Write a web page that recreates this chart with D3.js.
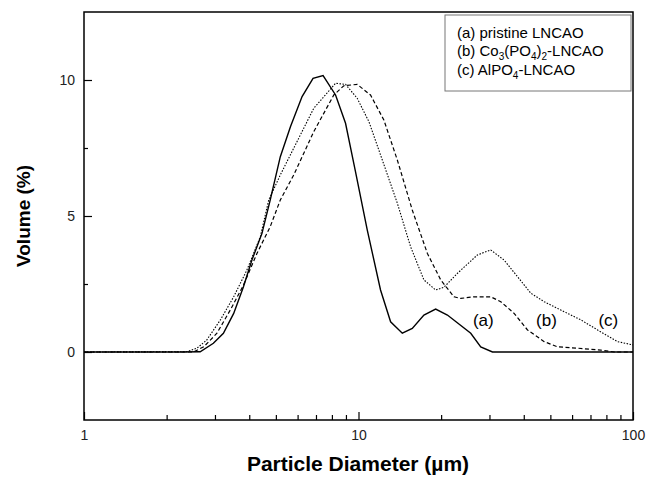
<!DOCTYPE html>
<html>
<head>
<meta charset="utf-8">
<script src="https://cdn.jsdelivr.net/npm/d3@7"></script>
<style>
  body { margin: 0; background: #fff; }
  svg { font-family: "Liberation Sans", Arial, sans-serif; }
</style>
</head>
<body>
<div id="chart"></div>
<script>
// particle size distributions (diameter in um, volume in %)
const diamA = [1, 2.24, 2.65, 2.96, 3.22, 3.51, 3.81, 4.09, 4.45, 4.77, 5.19, 5.65, 6.23, 6.83, 7.43, 8.25, 8.97, 9.75, 10.76, 12.03, 13.09, 14.44, 15.70, 17.31, 19.10, 21.08, 25.64, 27.88, 30.76, 100];
const volA  = [0, 0, 0.01, 0.32, 0.69, 1.42, 2.40, 3.38, 4.36, 5.59, 7.18, 8.28, 9.39, 10.06, 10.16, 9.45, 8.41, 6.63, 4.49, 2.28, 1.11, 0.69, 0.87, 1.36, 1.58, 1.36, 0.69, 0.19, 0, 0];

const diamB = [1, 2.50, 2.73, 3.05, 3.41, 3.81, 4.27, 4.77, 5.19, 5.81, 6.87, 8.13, 8.84, 9.89, 11.06, 12.37, 13.85, 15.70, 17.81, 19.93, 22.28, 23.57, 26.35, 30.33, 32.98, 36.89, 41.28, 47.47, 53.13, 62.84, 76.4, 85.5, 100];
const volB  = [0, 0, 0.19, 0.69, 1.54, 2.46, 3.63, 4.61, 5.59, 6.51, 8.10, 9.45, 9.79, 9.84, 9.45, 8.53, 7.06, 5.22, 3.63, 2.65, 2.03, 1.97, 2.03, 2.03, 1.85, 1.42, 0.81, 0.38, 0.19, 0.14, 0.07, 0, 0];

const diamC = [1, 2.37, 2.58, 2.80, 3.14, 3.51, 3.92, 4.39, 4.71, 5.19, 6.87, 8.25, 8.97, 9.89, 10.91, 12.21, 13.85, 15.48, 17.31, 19.10, 20.48, 22.92, 27.12, 30.33, 33.91, 37.95, 42.45, 47.47, 54.6, 64.6, 74.3, 87.9, 100];
const volC  = [0, 0.01, 0.14, 0.44, 1.18, 2.03, 3.01, 4.24, 5.59, 6.51, 8.96, 9.88, 9.84, 9.33, 8.47, 7.06, 5.47, 3.87, 2.65, 2.28, 2.38, 2.89, 3.57, 3.75, 3.38, 2.77, 2.16, 1.85, 1.54, 1.18, 0.81, 0.38, 0.26];

const majorX = [1, 10, 100];
const minorX = [2, 3, 4, 5, 6, 7, 8, 9, 20, 30, 40, 50, 60, 70, 80, 90];
const majorY = [0, 5, 10];
const minorY = [2.5, 7.5];

const curveLabels = [
    { text: "(a)", d: 28.5, v: 0.95 },
    { text: "(b)", d: 48.4, v: 0.95 },
    { text: "(c)", d: 81.3, v: 0.95 }
];

const W = 648, H = 478;
const plot = { left: 84, right: 633, top: 12, bottom: 420 };

const svg = d3.select("#chart").append("svg")
    .attr("width", W)
    .attr("height", H);

const x = d3.scaleLog().domain([1, 100]).range([plot.left, plot.right]);
const y = d3.scaleLinear().domain([-2.5, 12.5]).range([plot.bottom, plot.top]);

// curves
const series = [
    { d: diamA, v: volA, dash: null, width: 1.4 },
    { d: diamB, v: volB, dash: "4,2.5", width: 1.2 },
    { d: diamC, v: volC, dash: "1.5,1.5", width: 1.1 }
];

const line = d3.line()
    .x(p => x(p[0]))
    .y(p => y(p[1]));

series.forEach(s => {
    svg.append("path")
        .datum(s.d.map((d, i) => [d, s.v[i]]))
        .attr("d", line)
        .attr("fill", "none")
        .attr("stroke", "#000")
        .attr("stroke-width", s.width)
        .attr("stroke-dasharray", s.dash);
});

// axes, ticks point inward
svg.append("g")
    .attr("transform", `translate(0,${plot.bottom})`)
    .call(d3.axisBottom(x).tickValues(majorX).tickFormat(d3.format("d"))
        .tickSizeInner(-8).tickSizeOuter(0).tickPadding(10));

svg.append("g")
    .attr("transform", `translate(0,${plot.bottom})`)
    .call(d3.axisBottom(x).tickValues(minorX).tickFormat("")
        .tickSizeInner(-5).tickSizeOuter(0));

svg.append("g")
    .attr("transform", `translate(${plot.left},0)`)
    .call(d3.axisLeft(y).tickValues(majorY)
        .tickSizeInner(-8).tickSizeOuter(0).tickPadding(9));

svg.append("g")
    .attr("transform", `translate(${plot.left},0)`)
    .call(d3.axisLeft(y).tickValues(minorY).tickFormat("")
        .tickSizeInner(-4).tickSizeOuter(0));

svg.selectAll(".domain").remove();
svg.selectAll(".tick line").attr("stroke", "#000").attr("stroke-width", 1.2);
svg.selectAll(".tick text")
    .attr("fill", "#222")
    .style("font-size", "14px")
    .style("font-family", "'Liberation Sans', Arial, sans-serif");

// frame
svg.append("rect")
    .attr("x", plot.left).attr("y", plot.top)
    .attr("width", plot.right - plot.left).attr("height", plot.bottom - plot.top)
    .attr("fill", "none")
    .attr("stroke", "#000")
    .attr("stroke-width", 1.5);

// axis titles
svg.append("text")
    .attr("x", 358)
    .attr("y", 471)
    .attr("text-anchor", "middle")
    .style("font-size", "21px")
    .style("font-weight", "bold")
    .text("Particle Diameter (\u00b5m)");

svg.append("text")
    .attr("transform", `translate(30,${(plot.top + plot.bottom) / 2}) rotate(-90)`)
    .attr("text-anchor", "middle")
    .style("font-size", "19px")
    .style("font-weight", "bold")
    .text("Volume (%)");

// curve labels
svg.selectAll(".curve-label")
    .data(curveLabels).enter()
    .append("text")
    .attr("class", "curve-label")
    .attr("x", d => x(d.d))
    .attr("y", d => y(d.v))
    .attr("text-anchor", "middle")
    .style("font-size", "17px")
    .text(d => d.text);

// legend
const legend = svg.append("g");
legend.append("rect")
    .attr("x", 445).attr("y", 15)
    .attr("width", 186).attr("height", 76)
    .attr("fill", "#fff")
    .attr("stroke", "#777")
    .attr("stroke-width", 1);

const legendRows = [
    [["(a) pristine LNCAO", 0]],
    [["(b) Co", 0], ["3", 1], ["(PO", 0], ["4", 1], [")", 0], ["2", 1], ["-LNCAO", 0]],
    [["(c) AlPO", 0], ["4", 1], ["-LNCAO", 0]]
];

legendRows.forEach((row, i) => {
    const t = legend.append("text")
        .attr("x", 457)
        .attr("y", 37.5 + i * 18.8)
        .style("font-size", "15px");
    let sub = false;
    row.forEach(([txt, isSub]) => {
        const ts = t.append("tspan").text(txt);
        if (isSub && !sub) { ts.attr("dy", 4).style("font-size", "10px"); sub = true; }
        else if (isSub && sub) { ts.style("font-size", "10px"); }
        else if (!isSub && sub) { ts.attr("dy", -4); sub = false; }
    });
});
</script>
</body>
</html>
